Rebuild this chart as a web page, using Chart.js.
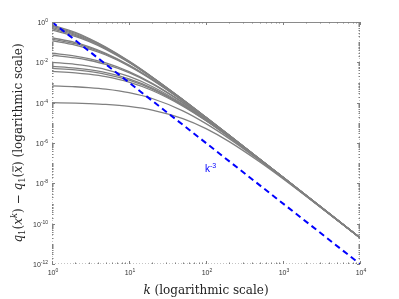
<!DOCTYPE html>
<html lang="en">
<head>
<meta charset="UTF-8">
<title>Gap q1(x^k) - q1(x bar)</title>
<script src="https://cdn.jsdelivr.net/npm/chart.js"></script>
<style>
  html, body { margin: 0; padding: 0; background: #fff; }
  .wrap { position: relative; width: 399px; height: 299px; }
</style>
</head>
<body>
<div class="wrap"><canvas id="gapChart" width="399" height="299"></canvas></div>
<script>
// iteration counts where the curves were read
const kSteps = [1, 2, 3, 5, 10, 20, 50, 100, 200, 500, 1000, 10000];

// grey curves, one per run
const run01 = [0.710, 0.303, 0.156, 0.0573, 0.0115, 1.87e-3, 1.42e-4, 1.88e-5, 2.42e-6, 1.58e-7, 1.99e-8, 2.0e-11];
const run02 = [0.632, 0.277, 0.145, 0.0544, 0.0111, 1.84e-3, 1.41e-4, 1.88e-5, 2.42e-6, 1.58e-7, 1.99e-8, 2.0e-11];
const run03 = [0.538, 0.245, 0.132, 0.0506, 0.0107, 1.79e-3, 1.40e-4, 1.87e-5, 2.41e-6, 1.58e-7, 1.99e-8, 2.0e-11];
const run04 = [0.469, 0.220, 0.121, 0.0475, 0.0103, 1.76e-3, 1.38e-4, 1.86e-5, 2.41e-6, 1.58e-7, 1.99e-8, 2.0e-11];
const run05 = [0.399, 0.194, 0.109, 0.0441, 9.80e-3, 1.71e-3, 1.37e-4, 1.85e-5, 2.40e-6, 1.57e-7, 1.98e-8, 2.0e-11];
const run06 = [0.166, 0.0957, 0.0600, 0.0280, 7.39e-3, 1.46e-3, 1.27e-4, 1.78e-5, 2.36e-6, 1.56e-7, 1.98e-8, 2.0e-11];
const run07 = [0.142, 0.0836, 0.0534, 0.0256, 6.97e-3, 1.41e-3, 1.26e-4, 1.77e-5, 2.35e-6, 1.56e-7, 1.98e-8, 2.0e-11];
const run08 = [0.118, 0.0716, 0.0467, 0.0231, 6.51e-3, 1.35e-3, 1.23e-4, 1.75e-5, 2.34e-6, 1.56e-7, 1.97e-8, 2.0e-11];
const run09 = [0.0282, 0.0205, 0.0154, 9.29e-3, 3.48e-3, 9.20e-4, 1.03e-4, 1.59e-5, 2.23e-6, 1.53e-7, 1.95e-8, 2.0e-11];
const run10 = [0.0224, 0.0167, 0.0127, 7.91e-3, 3.10e-3, 8.53e-4, 9.93e-5, 1.56e-5, 2.20e-6, 1.52e-7, 1.95e-8, 2.0e-11];
const run11 = [0.0100, 7.97e-3, 6.44e-3, 4.38e-3, 1.99e-3, 6.34e-4, 8.56e-5, 1.44e-5, 2.11e-6, 1.49e-7, 1.93e-8, 2.0e-11];
const run12 = [6.32e-3, 5.19e-3, 4.31e-3, 3.07e-3, 1.51e-3, 5.24e-4, 7.75e-5, 1.36e-5, 2.05e-6, 1.48e-7, 1.92e-8, 2.0e-11];
const run13 = [5.02e-3, 4.18e-3, 3.52e-3, 2.56e-3, 1.30e-3, 4.73e-4, 7.33e-5, 1.32e-5, 2.02e-6, 1.47e-7, 1.91e-8, 2.0e-11];
const run14 = [3.56e-3, 3.02e-3, 2.58e-3, 1.94e-3, 1.04e-3, 4.02e-4, 6.72e-5, 1.26e-5, 1.96e-6, 1.45e-7, 1.90e-8, 2.0e-11];
const run15 = [6.78e-4, 6.16e-4, 5.62e-4, 4.71e-4, 3.15e-4, 1.61e-4, 3.92e-5, 9.12e-6, 1.65e-6, 1.34e-7, 1.83e-8, 1.98e-11];
const run16 = [9.99e-5, 9.50e-5, 9.03e-5, 8.19e-5, 6.50e-5, 4.30e-5, 1.61e-5, 5.12e-6, 1.17e-6, 1.15e-7, 1.69e-8, 1.97e-11];
const runs = [run01, run02, run03, run04, run05, run06, run07, run08,
              run09, run10, run11, run12, run13, run14, run15, run16];

// reference rate k^-3 (dashed blue)
const refK = [1, 10000];
const refRate = [1, 1e-12];

// tick labels (powers of ten)
const xTickExps = [0, 1, 2, 3, 4];
const yTickExps = [0, -2, -4, -6, -8, -10, -12];

const GREY = '#808080';
const BLUE = '#0000ff';

function pts(xs, ys) {
  return xs.map((v, i) => ({ x: v, y: ys[i] }));
}

// draw a row of text pieces (font, offset) anchored on x
function drawRich(ctx, parts, x, y, align) {
  let w = 0;
  parts.forEach(p => { ctx.font = p.font; p.w = ctx.measureText(p.t).width; w += p.w; });
  let cx = align === 'right' ? x - w : (align === 'left' ? x : x - w / 2);
  parts.forEach(p => {
    ctx.font = p.font;
    ctx.fillText(p.t, cx, y + (p.dy || 0));
    if (p.bar) {
      ctx.fillRect(cx + 1, y - 9.5, p.w - 1, 0.9);
    }
    cx += p.w;
  });
}

function pow10(ctx, e, x, y, align) {
  drawRich(ctx, [
    { t: '10', font: '7px "Liberation Sans"' },
    { t: String(e), font: '5px "Liberation Sans"', dy: -3 }
  ], x, y, align);
}

const framePlugin = {
  id: 'frame',
  afterDatasetsDraw(chart) {
    const { ctx, chartArea: a } = chart;
    const sx = chart.scales.x, sy = chart.scales.y;
    ctx.save();

    // box: top solid, the others light
    ctx.lineWidth = 1;
    ctx.strokeStyle = '#8a8a8a';
    ctx.beginPath();
    ctx.moveTo(a.left, a.top + 0.5); ctx.lineTo(a.right, a.top + 0.5);
    ctx.stroke();
    ctx.strokeStyle = '#c4c4c4';
    ctx.setLineDash([1, 2]);
    ctx.beginPath();
    ctx.moveTo(a.left + 0.5, a.top); ctx.lineTo(a.left + 0.5, a.bottom);
    ctx.moveTo(a.right - 0.5, a.top); ctx.lineTo(a.right - 0.5, a.bottom);
    ctx.moveTo(a.left, a.bottom - 0.5); ctx.lineTo(a.right, a.bottom - 0.5);
    ctx.stroke();
    ctx.setLineDash([]);

    // tick marks pointing inward
    ctx.strokeStyle = '#808080';
    ctx.beginPath();
    for (let e = 0; e <= 4; e++) {
      for (let m = 1; m <= 9; m++) {
        const v = m * Math.pow(10, e);
        if (v > 10000) break;
        const px = Math.round(sx.getPixelForValue(v)) + 0.5;
        const len = m === 1 ? 3 : 1.5;
        ctx.moveTo(px, a.bottom); ctx.lineTo(px, a.bottom - len);
        ctx.moveTo(px, a.top); ctx.lineTo(px, a.top + len);
      }
    }
    for (let e = -12; e <= 0; e++) {
      for (let m = 1; m <= 9; m++) {
        const v = m * Math.pow(10, e);
        if (v > 1) break;
        const py = Math.round(sy.getPixelForValue(v)) + 0.5;
        const len = (m === 1 && e % 2 === 0) ? 3 : 1.5;
        ctx.moveTo(a.left, py); ctx.lineTo(a.left + len, py);
        ctx.moveTo(a.right, py); ctx.lineTo(a.right - len, py);
      }
    }
    ctx.stroke();

    // tick labels
    ctx.fillStyle = '#333';
    ctx.textBaseline = 'alphabetic';
    xTickExps.forEach(e => {
      pow10(ctx, e, sx.getPixelForValue(Math.pow(10, e)) + 1, a.bottom + 11, 'center');
    });
    yTickExps.forEach(e => {
      pow10(ctx, e === 0 ? 0 : '-' + (-e), a.left - 4, sy.getPixelForValue(Math.pow(10, e)) + 3, 'right');
    });

    // x axis title
    ctx.fillStyle = '#222';
    const serif = '12px "DejaVu Serif"';
    const serifI = 'italic 12px "DejaVu Serif"';
    const small = '8.5px "DejaVu Serif"';
    const smallI = 'italic 8.5px "DejaVu Serif"';
    drawRich(ctx, [
      { t: 'k', font: serifI },
      { t: ' (logarithmic scale)', font: serif }
    ], (a.left + a.right) / 2, 294, 'center');

    // y axis title, rotated
    ctx.save();
    ctx.translate(22, (a.top + a.bottom) / 2);
    ctx.rotate(-Math.PI / 2);
    drawRich(ctx, [
      { t: 'q', font: serifI },
      { t: '1', font: small, dy: 3 },
      { t: '(', font: serif },
      { t: 'x', font: serifI },
      { t: 'k', font: smallI, dy: -5 },
      { t: ') \u2212 ', font: serif },
      { t: 'q', font: serifI },
      { t: '1', font: small, dy: 3 },
      { t: '(', font: serif },
      { t: 'x', font: serifI, bar: true },
      { t: ') (logarithmic scale)', font: serif }
    ], 0, 0, 'center');
    ctx.restore();

    // rate label
    ctx.fillStyle = BLUE;
    drawRich(ctx, [
      { t: 'k', font: '10px "Liberation Sans"' },
      { t: '-3', font: '7px "Liberation Sans"', dy: -4 }
    ], 205, 172, 'left');

    ctx.restore();
  }
};

const datasets = [{
  data: pts(refK, refRate),
  borderColor: BLUE,
  borderWidth: 2,
  borderDash: [6, 4],
  pointRadius: 0
}].concat(runs.map(r => ({
  data: pts(kSteps, r),
  borderColor: GREY,
  borderWidth: 1.3,
  pointRadius: 0,
  cubicInterpolationMode: 'monotone'
})));

new Chart(document.getElementById('gapChart'), {
  type: 'line',
  data: { datasets: datasets },
  options: {
    responsive: false,
    devicePixelRatio: 1,
    animation: false,
    layout: { padding: { left: 52, top: 22, right: 39, bottom: 35 } },
    plugins: { legend: { display: false }, tooltip: { enabled: false } },
    scales: {
      x: { type: 'logarithmic', min: 1, max: 10000, display: false },
      y: { type: 'logarithmic', min: 1e-12, max: 1, display: false }
    }
  },
  plugins: [framePlugin]
});
</script>
</body>
</html>
